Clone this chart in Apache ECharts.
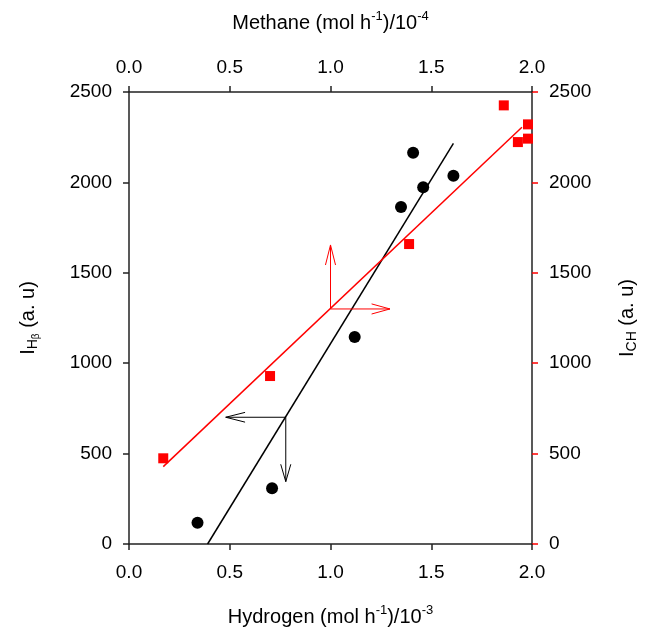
<!DOCTYPE html>
<html>
<head>
<meta charset="utf-8">
<script src="https://cdn.jsdelivr.net/npm/echarts@6/dist/echarts.min.js"></script>
<style>html,body{margin:0;background:#fff}#main{width:650px;height:635px}</style>
</head>
<body>
<div id="main"></div>
<script>
// hydrogen (bottom x) vs I_Hb (left y)
var hydrogen = [0.34, 0.71, 1.12, 1.35, 1.41, 1.46, 1.61];
var intensityH = [118, 308, 1145, 1864, 2164, 1973, 2037];
// methane (top x) vs I_CH (right y)
var methane = [0.17, 0.70, 1.39, 1.86, 1.93, 1.98, 1.98];
var intensityCH = [474, 929, 1659, 2426, 2223, 2321, 2242];
// fitted lines
var fitH = [[0.39, 0], [1.61, 2216]];
var fitCH = [[0.17, 428], [1.95, 2305]];
// arrows (shaft + open head)
var redArrows = [
  [[1.0, 1300], [1.0, 1654]],
  [[0.975, 1543], [1.0, 1654], [1.025, 1543]],
  [[1.0, 1300], [1.295, 1300]],
  [[1.204, 1328], [1.295, 1300], [1.204, 1272]]
];
var blackArrows = [
  [[0.778, 701], [0.48, 701]],
  [[0.576, 728], [0.48, 701], [0.576, 674]],
  [[0.778, 701], [0.778, 345]],
  [[0.753, 441], [0.778, 345], [0.803, 441]]
];

var myChart = echarts.init(document.getElementById('main'));
var font = 'Liberation Sans, Arial, sans-serif';
var rich = {
  t: {fontSize: 20, fontFamily: font, color: '#000', lineHeight: 26},
  s: {fontSize: 13, fontFamily: font, color: '#000', verticalAlign: 'top', lineHeight: 26, padding: [0, 0, 10, 0]},
  b: {fontSize: 14, fontFamily: font, color: '#000', lineHeight: 26, padding: [10, 0, 0, 0]},
  bb: {fontSize: 10, fontFamily: font, color: '#000', lineHeight: 26, padding: [17, 0, 0, 0]}
};

function xAxisOpt(pos, name, gap) {
  return {
    type: 'value', position: pos, min: 0, max: 2, interval: 0.5,
    name: name, nameLocation: 'middle', nameGap: gap,
    nameTextStyle: {rich: rich},
    axisLine: {onZero: false, lineStyle: {color: '#222', width: 1.5}},
    axisTick: {inside: false, length: 6, lineStyle: {color: '#222', width: 1.5}},
    axisLabel: {fontSize: 19, fontFamily: font, color: '#000', margin: pos === 'top' ? 15 : 19,
      formatter: function (v) { return v.toFixed(1); }},
    splitLine: {show: false}
  };
}
function yAxisOpt(pos, name, gap, tickColor) {
  return {
    type: 'value', position: pos, min: 0, max: 2500, interval: 500,
    name: name, nameLocation: 'middle', nameGap: gap, nameRotate: 90,
    nameTextStyle: {rich: rich},
    axisLine: {onZero: false, lineStyle: {color: '#222', width: 1.5}},
    axisTick: {inside: false, length: 6, lineStyle: {color: tickColor, width: 1.5}},
    axisLabel: {fontSize: 19, fontFamily: font, color: '#000', margin: 17,
      formatter: function (v) { return String(v); }},
    splitLine: {show: false}
  };
}

function pairs(xs, ys) {
  return xs.map(function (x, i) { return [x, ys[i]]; });
}

var series = [
  {type: 'line', data: fitH, xAxisIndex: 0, yAxisIndex: 0, symbol: 'none',
    lineStyle: {color: '#000', width: 1.5}, z: 2},
  {type: 'line', data: fitCH, xAxisIndex: 1, yAxisIndex: 1, symbol: 'none',
    lineStyle: {color: '#ff0000', width: 1.5}, z: 2},
  {type: 'scatter', data: pairs(hydrogen, intensityH), xAxisIndex: 0, yAxisIndex: 0,
    symbol: 'circle', symbolSize: 12, itemStyle: {color: '#000', opacity: 1}, z: 3},
  {type: 'scatter', data: pairs(methane, intensityCH), xAxisIndex: 1, yAxisIndex: 1,
    symbol: 'rect', symbolSize: 10, itemStyle: {color: '#ff0000', opacity: 1}, z: 3}
];
redArrows.forEach(function (seg) {
  series.push({type: 'line', data: seg, xAxisIndex: 1, yAxisIndex: 1, symbol: 'none',
    lineStyle: {color: '#ff0000', width: 1}, silent: true});
});
blackArrows.forEach(function (seg) {
  series.push({type: 'line', data: seg, xAxisIndex: 0, yAxisIndex: 0, symbol: 'none',
    lineStyle: {color: '#000', width: 1}, silent: true});
});

var option = {
  backgroundColor: '#fff',
  animation: false,
  grid: {left: 129, right: 118, top: 92, bottom: 91},
  xAxis: [
    xAxisOpt('bottom', '{t|Hydrogen (mol h}{s|-1}{t|)/10}{s|-3}', 60),
    xAxisOpt('top', '{t|Methane (mol h}{s|-1}{t|)/10}{s|-4}', 56)
  ],
  yAxis: [
    yAxisOpt('left', '{t|I}{b|H}{bb|β}{t| (a. u)}', 88, '#222'),
    yAxisOpt('right', '{t|I}{b|CH}{t| (a. u)}', 82, '#ff0000')
  ],
  series: series
};
myChart.setOption(option);
window.addEventListener('resize', function () { myChart.resize(); });
</script>
</body>
</html>
